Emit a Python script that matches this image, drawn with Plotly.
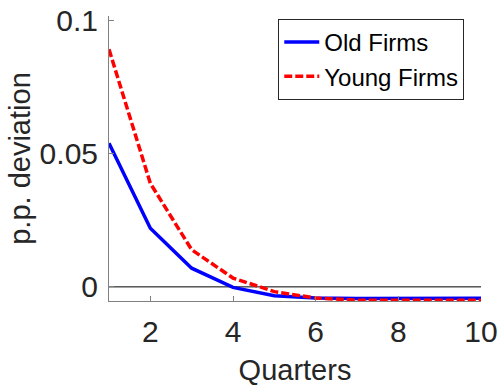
import plotly.graph_objects as go

quarters = [1, 2, 3, 4, 5, 6, 7, 8, 9, 10]
old_firms = [0.0538, 0.0220, 0.0070, -0.0002, -0.0033, -0.0042, -0.0044, -0.0044, -0.0044, -0.0043]
young_firms = [0.0890, 0.0388, 0.0139, 0.0033, -0.0018, -0.0042, -0.0050, -0.0051, -0.0051, -0.0050]
xticks = [2, 4, 6, 8, 10]
yticks = [0, 0.05, 0.1]
ytick_text = ["0", "0.05", "0.1"]

fig = go.Figure()
fig.add_trace(go.Scatter(x=[quarters[0], quarters[-1]], y=[0, 0], mode="lines",
                         line=dict(color="black", width=1), showlegend=False, hoverinfo="skip"))
fig.add_trace(go.Scatter(x=quarters, y=old_firms, mode="lines", name="Old Firms",
                         line=dict(color="#0000ff", width=3.5)))
fig.add_trace(go.Scatter(x=quarters, y=young_firms, mode="lines", name="Young Firms",
                         line=dict(color="#ff0000", width=3.5, dash="8px,3px")))

fig.update_layout(
    width=500, height=389,
    margin=dict(l=109, r=19, t=16, b=88, autoexpand=False),
    paper_bgcolor="white", plot_bgcolor="white",
    font=dict(family="Liberation Sans, Arial, sans-serif", color="#262626"),
    xaxis=dict(range=[1, 10], tickvals=xticks, ticks="inside", ticklen=5, automargin=False,
               tickcolor="#808080", showline=True, linecolor="#808080", linewidth=1,
               showgrid=False, zeroline=False, tickfont=dict(size=30), ticklabelstandoff=4,
               title=dict(text="Quarters", font=dict(size=29), standoff=12)),
    yaxis=dict(range=[-0.0053, 0.1015], tickvals=yticks, ticktext=ytick_text, ticks="inside",
               ticklen=5, tickcolor="#808080", showline=True, linecolor="#808080", linewidth=1,
               automargin=False,
               showgrid=False, zeroline=False, tickfont=dict(size=30), ticklabelstandoff=4,
               title=dict(text="p.p. deviation", font=dict(size=29), standoff=0)),
    legend=dict(x=0.455, y=0.99, xanchor="left", yanchor="top",
                bordercolor="#262626", borderwidth=1, bgcolor="white",
                font=dict(size=24, color="black"), tracegroupgap=0, itemwidth=35),
)

fig.write_html("out.html")
